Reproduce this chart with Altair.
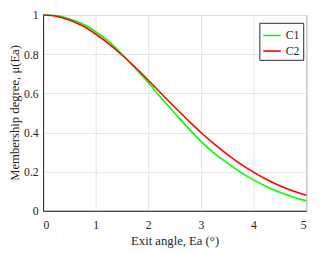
import altair as alt
import pandas as pd

x_vals = [0, 0.25, 0.5, 0.75, 1, 1.25, 1.5, 1.75, 2, 2.25, 2.5, 2.75, 3, 3.25, 3.5, 3.75, 4, 4.25, 4.5, 4.75, 5]
c1_vals = [1.0, 0.997, 0.98, 0.955, 0.915, 0.865, 0.80, 0.73, 0.655, 0.575, 0.50, 0.425, 0.355, 0.295, 0.245, 0.198, 0.158, 0.123, 0.095, 0.071, 0.052]
c2_vals = [1.0, 0.994, 0.975, 0.945, 0.903, 0.853, 0.796, 0.733, 0.667, 0.598, 0.53, 0.464, 0.40, 0.342, 0.289, 0.24, 0.198, 0.16, 0.128, 0.101, 0.08]
series = ["C1", "C2"]
colors = ["#00ff00", "#ff0000"]
x_ticks = [0, 1, 2, 3, 4, 5]
y_ticks = [0, 0.2, 0.4, 0.6, 0.8, 1]

rows = []
for name, vals in zip(series, [c1_vals, c2_vals]):
    for xv, yv in zip(x_vals, vals):
        rows.append({"x": xv, "y": yv, "s": name})
df = pd.DataFrame(rows)

font = "Liberation Serif"

chart = alt.Chart(df).mark_line(strokeWidth=1.6, interpolate="monotone").encode(
    x=alt.X("x:Q", scale=alt.Scale(domain=[0, 5], nice=False),
            axis=alt.Axis(title="Exit angle, Ea (°)", values=x_ticks, format="~g",
                          labelFont=font, titleFont=font,
                          tickSize=0, labelPadding=9, titlePadding=5)),
    y=alt.Y("y:Q", scale=alt.Scale(domain=[0, 1], nice=False),
            axis=alt.Axis(title="Membership degree, μ(Ea)", values=y_ticks, format="~g",
                          labelFont=font, titleFont=font,
                          tickSize=0, labelPadding=5, titleX=-22, titleY=100)),
    color=alt.Color("s:N", scale=alt.Scale(domain=series, range=colors),
                    legend=alt.Legend(title=None, orient="none", legendX=222, legendY=8,
                                      symbolType="M-1,0H1", symbolStrokeWidth=1.6, symbolSize=324,
                                      strokeColor="#262626", fillColor="white", padding=3,
                                      labelFont=font, labelFontSize=12, labelColor="#262626",
                                      labelOffset=4, rowPadding=0, symbolOffset=0)),
).properties(
    width=270, height=201, autosize=alt.AutoSizeParams(type="none"),
    padding={"left": 36, "top": 4, "right": 6, "bottom": 38},
).configure(
    font=font
).configure_view(
    stroke="#262626", strokeWidth=1
).configure_axis(
    labelFont=font, titleFont=font, labelFontSize=12, titleFontSize=13,
    labelColor="#262626", titleColor="#262626", titleFontWeight="normal",
    grid=True, gridColor="#e3e3e3", gridWidth=1, domainColor="#262626", domainWidth=1
)

chart.save("out.html", embed_options={"renderer": "svg", "actions": False})
